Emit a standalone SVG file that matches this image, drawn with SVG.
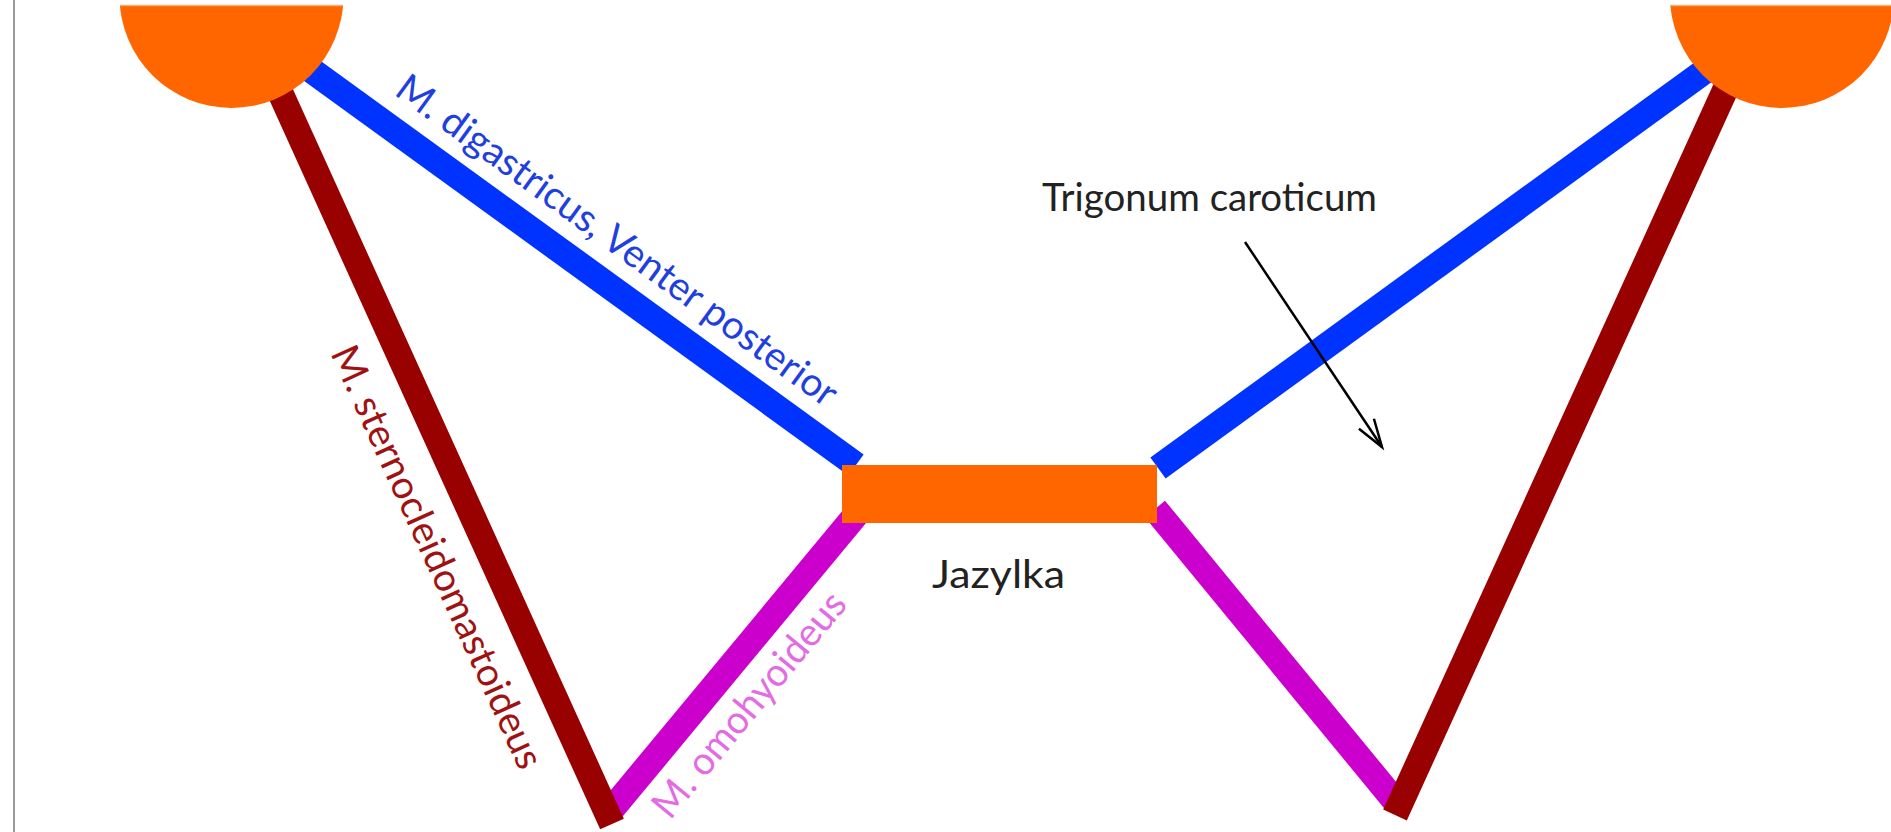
<svg xmlns="http://www.w3.org/2000/svg" width="1891" height="832" viewBox="0 0 1891 832">
  <style>
    .band { fill: none; stroke-linecap: butt; stroke-width: 26; }
    .blue { stroke: #0033FF; }
    .maroon { stroke: #990000; }
    .magenta { stroke: #CC00CC; }
    .bone { fill: #FF6600; }
    .lbl { font-family: Lato, "Open Sans", "Liberation Sans", sans-serif; font-size: 39px; }
  </style>
  <defs>
    <marker id="openArrow" markerUnits="userSpaceOnUse" markerWidth="40" markerHeight="30" viewBox="-32 -15 40 30" refX="0" refY="0" orient="auto">
      <path d="M -28 -9 L 0 0 L -28 9" fill="none" stroke="#000" stroke-width="2.5" stroke-linejoin="miter"/>
    </marker>
    <clipPath id="topClip">
      <rect x="0" y="5" width="1891" height="827"/>
    </clipPath>
  </defs>

  <rect x="0" y="0" width="1891" height="832" fill="#fff"/>
  <line x1="14" y1="0" x2="14" y2="832" stroke="#9a9a9a" stroke-width="2"/>

  <g id="connectors">
    <line id="omohyoid-left" class="band magenta" x1="860" y1="510" x2="612" y2="809"/>
    <line id="omohyoid-right" class="band magenta" x1="1155" y1="509" x2="1395" y2="801"/>
    <line id="digastric-left" class="band blue" x1="300" y1="62" x2="856" y2="465"/>
    <line id="digastric-right" class="band blue" x1="1158" y1="468" x2="1720" y2="60"/>
    <line id="scm-left" class="band maroon" x1="270" y1="70" x2="612" y2="824"/>
    <line id="scm-right" class="band maroon" x1="1737" y1="64" x2="1395" y2="815"/>
    <line id="arrow-carotid" x1="1245" y1="242" x2="1382" y2="447" stroke="#000" stroke-width="2.5" marker-end="url(#openArrow)"/>
  </g>

  <g id="mastoid-left">
    <circle class="bone" cx="231.5" cy="-4" r="112" clip-path="url(#topClip)"/>
    <line x1="120" y1="5.5" x2="343" y2="5.5" stroke="#E9B27A" stroke-width="1.5"/>
  </g>
  <g id="mastoid-right">
    <circle class="bone" cx="1782" cy="-4" r="112" clip-path="url(#topClip)"/>
    <line x1="1670" y1="5.5" x2="1891" y2="5.5" stroke="#E9B27A" stroke-width="1.5"/>
  </g>

  <g id="hyoid">
    <rect class="bone" x="842" y="465" width="315" height="58"/>
    <text class="lbl" x="932" y="588" fill="#222" textLength="133" lengthAdjust="spacingAndGlyphs">Jazylka</text>
  </g>

  <g id="label-carotid">
    <text class="lbl" x="1042" y="211" fill="#222" textLength="335" lengthAdjust="spacingAndGlyphs">Trigonum caroticum</text>
  </g>

  <g id="label-digastric">
    <text class="lbl" transform="translate(393,94) rotate(36)" x="0" y="0" fill="#1F3FE0" textLength="535" lengthAdjust="spacingAndGlyphs">M. digastricus, Venter posterior</text>
  </g>

  <g id="label-scm">
    <text class="lbl" transform="translate(330,353) rotate(65.6)" x="0" y="0" fill="#A01212" textLength="460" lengthAdjust="spacingAndGlyphs">M. sternocleidomastoideus</text>
  </g>

  <g id="label-omohyoid">
    <text class="lbl" transform="translate(670,821) rotate(-50.4)" x="0" y="0" fill="#E36BE3" textLength="280" lengthAdjust="spacingAndGlyphs">M. omohyoideus</text>
  </g>
</svg>
